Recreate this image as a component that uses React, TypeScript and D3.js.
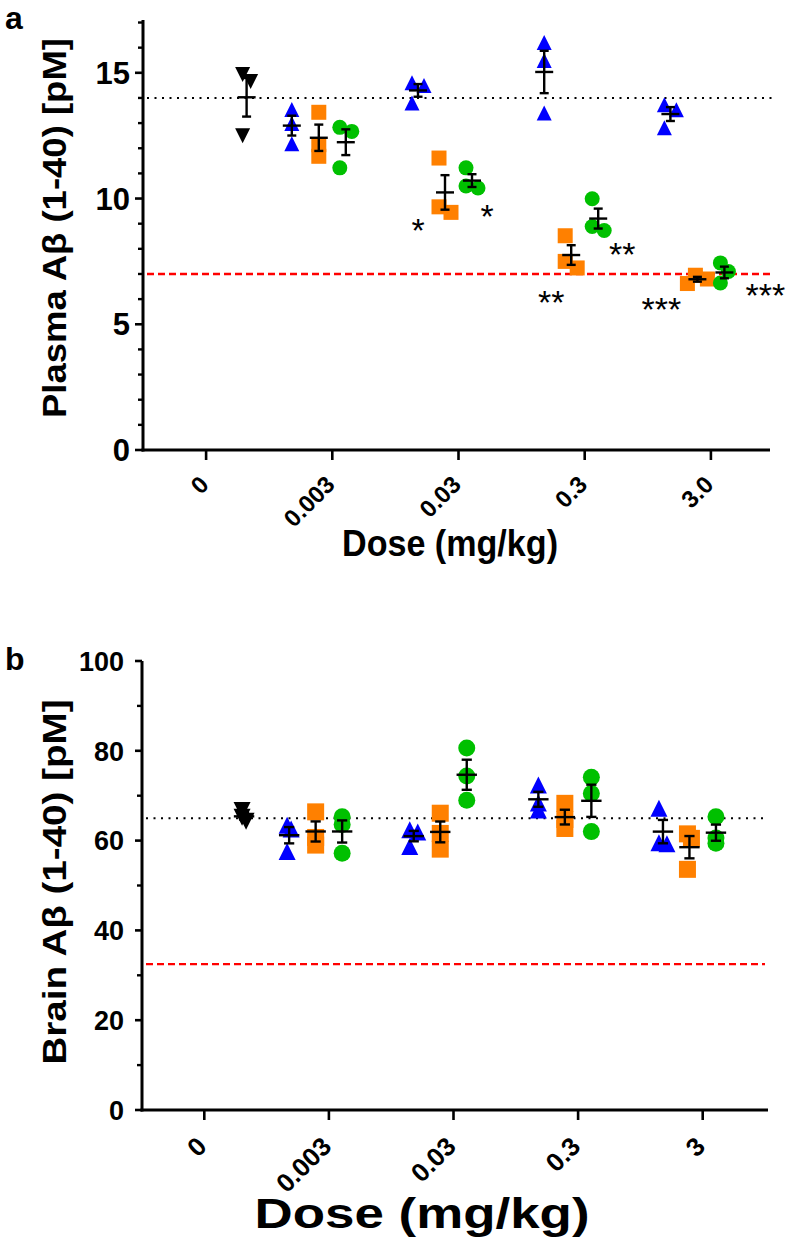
import React from 'react';
import * as d3 from 'd3';

// ---------------- DATA ----------------
const DOSES_A = ['0', '0.003', '0.03', '0.3', '3.0'];
const DOSES_B = ['0', '0.003', '0.03', '0.3', '3'];

// Plasma Aβ (1-40) [pM]
const plasmaVehicle = [14.93, 14.65, 12.5];
const plasmaBlue = [[13.54, 12.98, 12.18], [14.6, 14.5, 13.8], [16.21, 15.49, 13.4], [13.73, 13.53, 12.82]];
const plasmaOrange = [[13.43, 12.14, 11.68], [11.61, 9.45, 9.67], [8.52, 7.5, 7.24], [6.95, 6.8, 6.62]];
const plasmaGreen = [[12.83, 12.67, 11.22], [11.22, 10.42, 10.5], [9.99, 8.73, 8.89], [7.44, 7.1, 6.64]];
const plasmaRefs = { baseline: 14, floor: 7 };
const plasmaTicks = [0, 5, 10, 15];

// Brain Aβ (1-40) [pM]
const brainVehicle = [66.7, 65.2, 64.3];
const brainBlue = [[63.4, 62.6, 57.6], [62.4, 61.9, 58.7], [72.4, 68.4, 66.8], [67.2, 59.3, 59.5]];
const brainOrange = [[66.4, 60.7, 59.0], [66.1, 61.6, 58.1], [68.3, 64.7, 62.7], [61.5, 60.5, 53.6]];
const brainGreen = [[65.3, 63.6, 57.2], [80.6, 74.4, 69.0], [74.1, 70.5, 62.0], [65.3, 59.4, 60.6]];
const brainRefs = { baseline: 65, floor: 32.5 };
const brainTicks = [0, 20, 40, 60, 80, 100];

// significance marks (plasma): dose index, series index, label
const plasmaStars = [
  { dose: 2, series: 1, label: '*' },
  { dose: 2, series: 2, label: '*' },
  { dose: 3, series: 1, label: '**' },
  { dose: 3, series: 2, label: '**' },
  { dose: 4, series: 1, label: '***' },
  { dose: 4, series: 2, label: '***' },
];

// ---------------- LAYOUT / STYLE ----------------
const FONT = '"Liberation Sans", Arial, Helvetica, sans-serif';
const COLORS = ['#0000FF', '#FF8000', '#00C000'];
const SHAPES = ['tri', 'sq', 'circ'];
const STAR_OFFSETS = [[-27, 11], [15, 21], [-20, 27], [24, 17], [-36, 19], [41, 5]];

type Shape = 'tri' | 'dtri' | 'sq' | 'circ';

function Marker({ shape, x, y, s, color }: { shape: Shape; x: number; y: number; s: number; color: string }) {
  const h = s / 2;
  if (shape === 'circ') return <circle cx={x} cy={y} r={h} fill={color} />;
  if (shape === 'sq') return <rect x={x - h} y={y - h} width={s} height={s} fill={color} />;
  if (shape === 'tri')
    return <path d={`M${x},${y - h}L${x + h},${y + h}L${x - h},${y + h}Z`} fill={color} />;
  return <path d={`M${x},${y + h}L${x + h},${y - h}L${x - h},${y - h}Z`} fill={color} />;
}

function dodge(values: number[], y: (v: number) => number, minDist: number): number[] {
  const order = values.map((_, i) => i).sort((a, b) => values[b] - values[a]);
  const placed: { dx: number; py: number }[] = [];
  const out = new Array(values.length).fill(0);
  const cands = [0, 4, -4, 8, -8, 12, -12];
  for (const i of order) {
    const py = y(values[i]);
    let chosen = cands[cands.length - 1];
    for (const c of cands) {
      if (placed.every((p) => Math.hypot(p.dx - c, p.py - py) >= minDist)) {
        chosen = c;
        break;
      }
    }
    placed.push({ dx: chosen, py });
    out[i] = chosen;
  }
  const mn = d3.min(out) as number;
  const mx = d3.max(out) as number;
  const shift = (mn + mx) / 2;
  return out.map((d) => d - shift);
}

type PanelCfg = {
  label: string;
  doses: string[];
  vehicle: number[];
  groups: number[][][];
  refs: { baseline: number; floor: number };
  yDomain: [number, number];
  yRange: [number, number];
  xRange: [number, number];
  axisEnd: number;
  yTicks: number[];
  minorStep: number;
  yTitle: string;
  yTitleCenter: number;
  yTitleLen: number;
  yTitleSize: number;
  tickFont: number;
  yTickEnd: number;
  majorLen: number;
  minorLen: number;
  xTickFont: number;
  xLabelDy: number;
  xTitleX: number;
  xTitleY: number;
  xTitleSize: number;
  xTitleLen: number;
  markerSize: number;
  dodgeDist: number;
  slot: number;
  lineEnd: number;
  panelLabelY: number;
  stars?: typeof plasmaStars;
};

function Panel({ cfg }: { cfg: PanelCfg }) {
  const y = d3.scaleLinear().domain(cfg.yDomain).range(cfg.yRange);
  const x = d3.scalePoint<string>().domain(cfg.doses).range(cfg.xRange).padding(0.5);
  const axisY = y(0);
  const axisX = cfg.xRange[0];
  const minor = d3.range(cfg.yDomain[0], cfg.yDomain[1] + 1e-9, cfg.minorStep).filter((v) => !cfg.yTicks.includes(v));
  const s = cfg.markerSize;
  const w = cfg.slot;

  const marks: React.ReactNode[] = [];
  const bars: React.ReactNode[] = [];

  const addGroup = (vals: number[], cx: number, shape: Shape, color: string, key: string) => {
    const offs = dodge(vals, y, cfg.dodgeDist);
    vals.forEach((v, i) => {
      marks.push(<Marker key={`${key}-${i}`} shape={shape} x={cx + offs[i]} y={y(v)} s={s} color={color} />);
    });
    const m = d3.mean(vals) as number;
    const sem = (d3.deviation(vals) as number) / Math.sqrt(vals.length);
    const yt = y(m + sem);
    const yb = y(m - sem);
    const mw = s * 1.2;
    const cw = s * 0.6;
    bars.push(
      <g key={`${key}-eb`} stroke="#000" strokeWidth={2.4} fill="none">
        <line x1={cx} x2={cx} y1={yt} y2={yb} />
        <line x1={cx - cw / 2} x2={cx + cw / 2} y1={yt} y2={yt} />
        <line x1={cx - cw / 2} x2={cx + cw / 2} y1={yb} y2={yb} />
        <line x1={cx - mw / 2} x2={cx + mw / 2} y1={y(m)} y2={y(m)} />
      </g>
    );
  };

  addGroup(cfg.vehicle, (x(cfg.doses[0]) as number) + 1.5 * w, 'dtri', '#000', 'veh');
  const seriesX = (di: number, si: number) => (x(cfg.doses[di]) as number) + (si - 1.5) * w;
  cfg.groups.forEach((series, si) => {
    series.forEach((vals, gi) => {
      addGroup(vals, seriesX(gi + 1, si), SHAPES[si] as Shape, COLORS[si], `s${si}g${gi}`);
    });
  });

  const lineStart = axisX + 4;

  return (
    <g>
      {/* reference lines */}
      <line x1={lineStart} x2={cfg.lineEnd} y1={y(cfg.refs.baseline)} y2={y(cfg.refs.baseline)} stroke="#000" strokeWidth={2} strokeDasharray="2 5.5" />
      <line x1={lineStart} x2={cfg.lineEnd} y1={y(cfg.refs.floor)} y2={y(cfg.refs.floor)} stroke="#FF0000" strokeWidth={2.4} strokeDasharray="7 4" />

      {marks}
      {bars}

      {/* stars */}
      {cfg.stars &&
        cfg.stars.map((st, i) => {
          const vals = cfg.groups[st.series][st.dose - 1];
          const cx = seriesX(st.dose, st.series) + STAR_OFFSETS[i][0];
          const cy = y(d3.min(vals) as number) + STAR_OFFSETS[i][1];
          return (
            <text key={`st${i}`} x={cx} y={cy + 0.55 * 34} fontSize={34} fontFamily={FONT} textAnchor="middle" fill="#000">
              {st.label}
            </text>
          );
        })}

      {/* y axis */}
      <line x1={axisX} x2={axisX} y1={cfg.yRange[1]} y2={axisY + 1.5} stroke="#000" strokeWidth={3} />
      {cfg.yTicks.map((t) => (
        <g key={`yt${t}`}>
          <line x1={axisX - cfg.majorLen} x2={axisX} y1={y(t)} y2={y(t)} stroke="#000" strokeWidth={2.6} />
          <text x={cfg.yTickEnd} y={y(t)} dy="0.36em" textAnchor="end" fontSize={cfg.tickFont} fontWeight="bold" fontFamily={FONT}>
            {t}
          </text>
        </g>
      ))}
      {minor.map((t) => (
        <line key={`ym${t}`} x1={axisX - cfg.minorLen} x2={axisX} y1={y(t)} y2={y(t)} stroke="#000" strokeWidth={2.4} />
      ))}

      {/* x axis */}
      <line x1={axisX - 1.5} x2={cfg.axisEnd} y1={axisY} y2={axisY} stroke="#000" strokeWidth={3} />
      {cfg.doses.map((d) => {
        const tx = x(d) as number;
        return (
          <g key={`xt${d}`}>
            <line x1={tx} x2={tx} y1={axisY} y2={axisY + 10} stroke="#000" strokeWidth={2.6} />
            <text
              transform={`translate(${tx + 4},${axisY + cfg.xLabelDy}) rotate(-45)`}
              textAnchor="end"
              fontSize={cfg.xTickFont}
              fontWeight="bold"
              fontFamily={FONT}
            >
              {d}
            </text>
          </g>
        );
      })}

      {/* titles */}
      <text
        transform={`translate(${66},${cfg.yTitleCenter}) rotate(-90)`}
        textAnchor="middle"
        fontSize={cfg.yTitleSize}
        fontWeight="bold"
        fontFamily={FONT}
        textLength={cfg.yTitleLen}
        lengthAdjust="spacingAndGlyphs"
      >
        {cfg.yTitle}
      </text>
      <text
        x={cfg.xTitleX}
        y={cfg.xTitleY}
        textAnchor="middle"
        fontSize={cfg.xTitleSize}
        fontWeight="bold"
        fontFamily={FONT}
        textLength={cfg.xTitleLen}
        lengthAdjust="spacingAndGlyphs"
      >
        Dose (mg/kg)
      </text>
      <text x={5} y={cfg.panelLabelY} fontSize={32} fontWeight="bold" fontFamily={FONT}>
        {cfg.label}
      </text>
    </g>
  );
}

const panelA: PanelCfg = {
  label: 'a',
  doses: DOSES_A,
  vehicle: plasmaVehicle,
  groups: [plasmaBlue, plasmaOrange, plasmaGreen],
  refs: plasmaRefs,
  yDomain: [0, 17.1],
  yRange: [450, 20],
  xRange: [143, 774],
  axisEnd: 770,
  yTicks: plasmaTicks,
  minorStep: 1,
  yTitle: 'Plasma Aβ (1-40) [pM]',
  yTitleCenter: 228,
  yTitleLen: 380,
  yTitleSize: 34,
  tickFont: 31,
  yTickEnd: 130,
  majorLen: 8,
  minorLen: 5,
  xTickFont: 24,
  xLabelDy: 36,
  xTitleX: 450,
  xTitleY: 556,
  xTitleSize: 36,
  xTitleLen: 216,
  markerSize: 15,
  dodgeDist: 10.5,
  slot: 27,
  lineEnd: 773,
  panelLabelY: 29,
  stars: plasmaStars,
};

const panelB: PanelCfg = {
  label: 'b',
  doses: DOSES_B,
  vehicle: brainVehicle,
  groups: [brainBlue, brainOrange, brainGreen],
  refs: brainRefs,
  yDomain: [0, 100],
  yRange: [1110, 661],
  xRange: [142, 765],
  axisEnd: 768,
  yTicks: brainTicks,
  minorStep: 10,
  yTitle: 'Brain Aβ (1-40) [pM]',
  yTitleCenter: 882,
  yTitleLen: 365,
  yTitleSize: 34,
  tickFont: 27,
  yTickEnd: 124,
  majorLen: 7,
  minorLen: 5,
  xTickFont: 26,
  xLabelDy: 38,
  xTitleX: 422,
  xTitleY: 1228,
  xTitleSize: 42,
  xTitleLen: 335,
  markerSize: 17,
  dodgeDist: 5.1,
  slot: 26.5,
  lineEnd: 765,
  panelLabelY: 670,
};

export default function App() {
  return (
    <svg
      width={792}
      height={1243}
      viewBox="0 0 792 1243"
      style={{ position: 'absolute', left: 0, top: 0, background: '#fff' }}
    >
      <rect width={792} height={1243} fill="#fff" />
      <Panel cfg={panelA} />
      <Panel cfg={panelB} />
    </svg>
  );
}
